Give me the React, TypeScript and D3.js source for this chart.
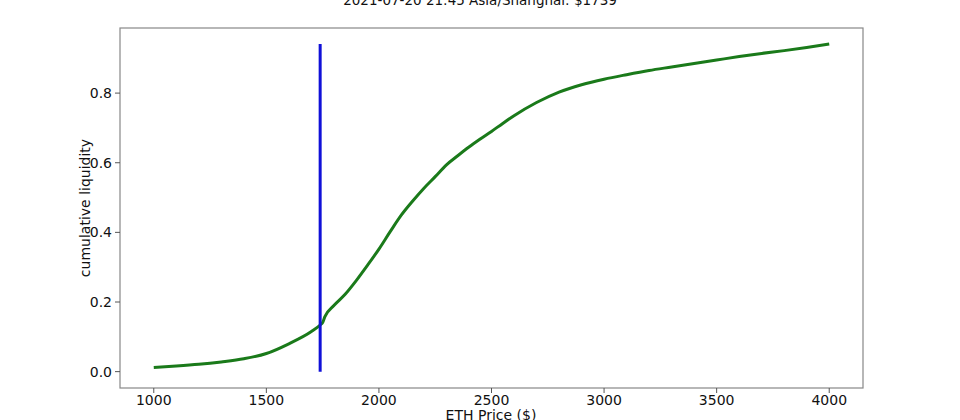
import React from "react";
import * as d3 from "d3";

const title = "2021-07-20 21:45 Asia/Shanghai: $1739";
const currentPrice = 1739;
const prices = [1000, 1100, 1200, 1300, 1400, 1500, 1600, 1700, 1739, 1750, 1760, 1800, 1850, 1900, 1950, 2000, 2050, 2100, 2150, 2200, 2250, 2300, 2350, 2400, 2450, 2500, 2550, 2600, 2700, 2800, 2900, 3000, 3100, 3200, 3300, 3400, 3500, 3600, 3700, 3800, 3900, 4000];
const liquidity = [0.012, 0.016, 0.021, 0.028, 0.037, 0.052, 0.080, 0.115, 0.134, 0.141, 0.158, 0.19, 0.222, 0.262, 0.306, 0.352, 0.402, 0.45, 0.49, 0.527, 0.56, 0.594, 0.62, 0.645, 0.668, 0.69, 0.713, 0.735, 0.773, 0.803, 0.824, 0.840, 0.853, 0.865, 0.875, 0.885, 0.895, 0.905, 0.914, 0.922, 0.931, 0.941];
const xTicks = [1000, 1500, 2000, 2500, 3000, 3500, 4000];
const yTicks = [0.0, 0.2, 0.4, 0.6, 0.8];

const W = 960, H = 420;
const L = 120, R = 863, T = 28, B = 388;
const font = "DejaVu Sans, sans-serif";

export default function App() {
  const x = d3.scaleLinear().domain([850, 4150]).range([L, R]);
  const y = d3.scaleLinear().domain([-0.047, 0.987]).range([B, T]);
  const line = d3
    .line<number>()
    .x((_, i) => x(prices[i]))
    .y((d) => y(d))
    .curve(d3.curveMonotoneX);
  const maxLiq = d3.max(liquidity) as number;
  return (
    <svg width={W} height={H} style={{ position: "absolute", left: 0, top: 0, background: "#fff" }} fontFamily={font}>
      <rect x={0} y={0} width={W} height={H} fill="#fff" />
      <text x={480} y={5} textAnchor="middle" fontSize={13.5} fill="#111">{title}</text>
      <path d={line(liquidity) || ""} fill="none" stroke="#1a7a1a" strokeWidth={3} strokeLinejoin="round" />
      <line x1={x(currentPrice)} x2={x(currentPrice)} y1={y(0)} y2={y(maxLiq)} stroke="#1010d8" strokeWidth={3} />
      <rect x={L} y={T} width={R - L} height={B - T} fill="none" stroke="#888" strokeWidth={1.2} />
      {xTicks.map((t) => (
        <g key={t}>
          <line x1={x(t)} x2={x(t)} y1={B} y2={B + 5} stroke="#555" />
          <text x={x(t)} y={405} textAnchor="middle" fontSize={14} fill="#111">{t}</text>
        </g>
      ))}
      {yTicks.map((t) => (
        <g key={t}>
          <line x1={L - 5} x2={L} y1={y(t)} y2={y(t)} stroke="#555" />
          <text x={L - 8} y={y(t) + 5} textAnchor="end" fontSize={14} fill="#111">{t.toFixed(1)}</text>
        </g>
      ))}
      <text x={491} y={420} textAnchor="middle" fontSize={14} fill="#111">ETH Price ($)</text>
      <text transform={`translate(90,${(T + B) / 2}) rotate(-90)`} textAnchor="middle" fontSize={14} fill="#111">cumulative liquidity</text>
    </svg>
  );
}
